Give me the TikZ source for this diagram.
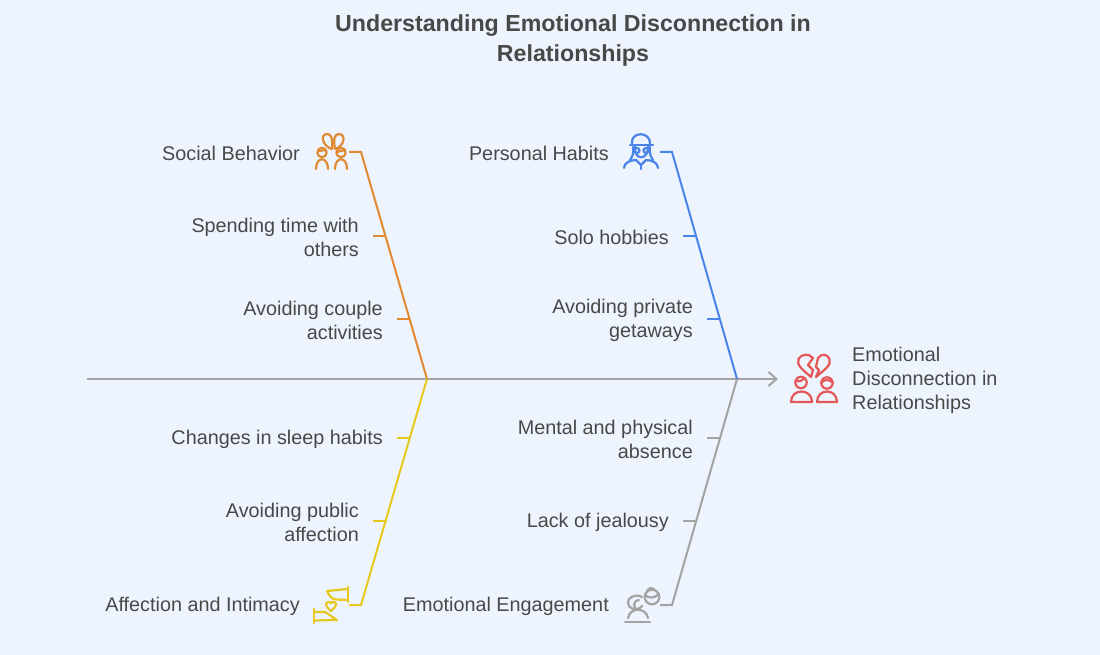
\documentclass[tikz,border=0pt]{standalone}
\usepackage{fontspec}
\setmainfont{Liberation Sans}
\usepackage{tikz}
\usetikzlibrary{arrows.meta}
\definecolor{bgcol}{HTML}{EEF4FE}
\definecolor{txtcol}{HTML}{484848}
\definecolor{orangecol}{HTML}{E08A32}
\definecolor{bluecol}{HTML}{4A84E8}
\definecolor{yellowcol}{HTML}{E6C81E}
\definecolor{greycol}{HTML}{A3A3A3}
\definecolor{redcol}{HTML}{E45757}
\tikzset{
  lbl/.style={inner sep=0pt,anchor=east,align=right,yshift=-1pt,text=txtcol,font=\fontsize{19.8}{24}\selectfont},
  ttl/.style={inner sep=0pt,align=center,text=txtcol,font=\fontsize{23.2}{30}\selectfont\bfseries},
  bone/.style={line width=2pt},
  ico/.style={line width=2.2pt,line join=round,line cap=round},
}
\begin{document}
\begin{tikzpicture}[x=1pt,y=-1pt]
\fill[bgcol] (0,0) rectangle (1100,655);
\useasboundingbox (0,0) rectangle (1100,655);
\node[ttl] (title) at (573,40.5) {Understanding Emotional Disconnection in\\Relationships};
% spine
\coordinate (tail) at (87,379);
\coordinate (joinl) at (427,379);
\coordinate (joinr) at (737,379);
\coordinate (head) at (778,379);
\draw [-{Straight Barb[length=8pt,width=14pt,line width=2pt]},bone,greycol] (tail) -- (head);
% corners
\coordinate (cso) at (361,152);
\coordinate (cpe) at (672,152);
\coordinate (caf) at (361,605);
\coordinate (cem) at (672,605);
\draw [bone,orangecol] ([xshift=-12pt] cso) -- (cso) -- (joinl);
\draw [bone,bluecol] ([xshift=-12pt] cpe) -- (cpe) -- (joinr);
\draw [bone,yellowcol] ([xshift=-12pt] caf) -- (caf) -- (joinl);
\draw [bone,greycol] ([xshift=-12pt] cem) -- (cem) -- (joinr);
% ticks
\coordinate (so1) at (385,236);
\coordinate (so2) at (409,319);
\coordinate (pe1) at (695,236);
\coordinate (pe2) at (719,319);
\coordinate (af1) at (409,438);
\coordinate (af2) at (385,521);
\coordinate (em1) at (719,438);
\coordinate (em2) at (695,521);
\draw [bone,orangecol] ([xshift=-12pt] so1) -- (so1);
\draw [bone,orangecol] ([xshift=-12pt] so2) -- (so2);
\draw [bone,bluecol] ([xshift=-12pt] pe1) -- (pe1);
\draw [bone,bluecol] ([xshift=-12pt] pe2) -- (pe2);
\draw [bone,yellowcol] ([xshift=-12pt] af1) -- (af1);
\draw [bone,yellowcol] ([xshift=-12pt] af2) -- (af2);
\draw [bone,greycol] ([xshift=-12pt] em1) -- (em1);
\draw [bone,greycol] ([xshift=-12pt] em2) -- (em2);
% labels
\node[lbl] (lso) at (300,152) {Social Behavior};
\node[lbl] (lso1) at (359,236) {Spending time with\\others};
\node[lbl] (lso2) at (383,319) {Avoiding couple\\activities};
\node[lbl] (lpe) at (609,152) {Personal Habits};
\node[lbl] (lpe1) at (669,236) {Solo hobbies};
\node[lbl] (lpe2) at (693,319) {Avoiding private\\getaways};
\node[lbl] (laf1) at (383,438) {Changes in sleep habits};
\node[lbl] (laf2) at (359,521) {Avoiding public\\affection};
\node[lbl] (laf) at (300,605) {Affection and Intimacy};
\node[lbl] (lem1) at (693,438) {Mental and physical\\absence};
\node[lbl] (lem2) at (669,521) {Lack of jealousy};
\node[lbl] (lem) at (609,605) {Emotional Engagement};
\node[lbl,anchor=west,align=left] (lout) at (852,379) {Emotional\\Disconnection in\\Relationships};
% social icon
\draw [ico,orangecol] (332,149) .. controls (322,146) and (320,134) .. (327,134) .. controls (331,134) and (333,138) .. (332,149);
\draw [ico,orangecol] (335,149) .. controls (345,146) and (346,134) .. (339,134) .. controls (335,134) and (333,138) .. (335,149);
\draw [ico,orangecol] (322,152.5) circle (4.7);
\draw [ico,orangecol] (341,152.5) circle (4.7);
\draw [ico,orangecol] (316,169) .. controls (316,156) and (328,156) .. (328,169);
\draw [ico,orangecol] (335,169) .. controls (335,156) and (347,156) .. (347,169);
\draw [ico,orangecol] (337,152) -- (345,150);
\draw [ico,orangecol] (318,151) -- (326,150);
% habits icon
\draw [ico,bluecol] (632,144) .. controls (630,131) and (651,131) .. (650,144);
\draw [ico,bluecol] (630,145) -- (653,145);
\draw [ico,bluecol] (635,146) .. controls (633,161) and (649,161) .. (648,146);
\draw [ico,bluecol] (637,150.5) circle (2.5);
\draw [ico,bluecol] (646,150.5) circle (2.5);
\draw [ico,bluecol] (633,147) .. controls (634,154) and (632,157) .. (630,160);
\draw [ico,bluecol] (650,147) .. controls (649,154) and (651,157) .. (653,160);
\draw [ico,bluecol] (624,168) .. controls (624,163) and (630,160) .. (636,160) -- (641,165) -- (646,160) .. controls (652,160) and (658,163) .. (658,168);
\draw [ico,bluecol] (641,165) -- (641,169);
% broken heart icon
\draw [ico,redcol] (811,377) .. controls (803,370) and (796,365) .. (798.5,359) .. controls (801,354) and (809,353) .. (813,358) -- (808,365) -- (813,370) -- cycle;
\draw [ico,redcol] (816,377) .. controls (824,370) and (832,365) .. (829.5,359) .. controls (827,354) and (822,353) .. (818,358) -- (816,367) -- (819,370) -- cycle;
\draw [ico,redcol] (801,382.5) circle (5.7);
\draw [ico,redcol] (827,383) circle (5.7);
\draw [ico,redcol] (791,402) .. controls (791,388) and (812,388) .. (812,402) -- cycle;
\draw [ico,redcol] (817,402) .. controls (817,388) and (837,388) .. (837,402) -- cycle;
\draw [ico,redcol] (796,381) .. controls (800,382) and (803,380) .. (805,378);
\draw [ico,redcol] (821,383) .. controls (824,379) and (830,379) .. (833,383);
% affection icon
\draw [ico,yellowcol] (348,587) -- (348,602);
\draw [ico,yellowcol] (348,589) -- (327,591) .. controls (329,596) and (332,599) .. (336,599.5) -- (348,600);
\draw [ico,yellowcol] (314,609) -- (314,623);
\draw [ico,yellowcol] (314,612) -- (325,612) -- (337,620) -- (314,620.5);
\draw [ico,yellowcol] (331,611) .. controls (326,607) and (325,604) .. (327,602.5) .. controls (329,601) and (331,602) .. (331,603.5) .. controls (331,602) and (333,601) .. (335,602.5) .. controls (337,604) and (336,607) .. (331,611);
% engagement icon
\draw [ico,greycol] (652,597) circle (7.3);
\draw [ico,greycol] (645,595) .. controls (649,599) and (655,598) .. (659,594);
\draw [ico,greycol] (647,591) .. controls (649,588) and (652,587) .. (654,589);
\draw [ico,greycol] (642,597) .. controls (635,593) and (627,598) .. (628,603) .. controls (628,609) and (637,612) .. (642,606);
\draw [ico,greycol] (639,600) .. controls (635,600) and (633,604) .. (635,608);
\draw [ico,greycol] (628,618) .. controls (630,607) and (646,607) .. (648,618);
\draw [ico,greycol] (625,622) -- (650,622);
\end{tikzpicture}
\end{document}
